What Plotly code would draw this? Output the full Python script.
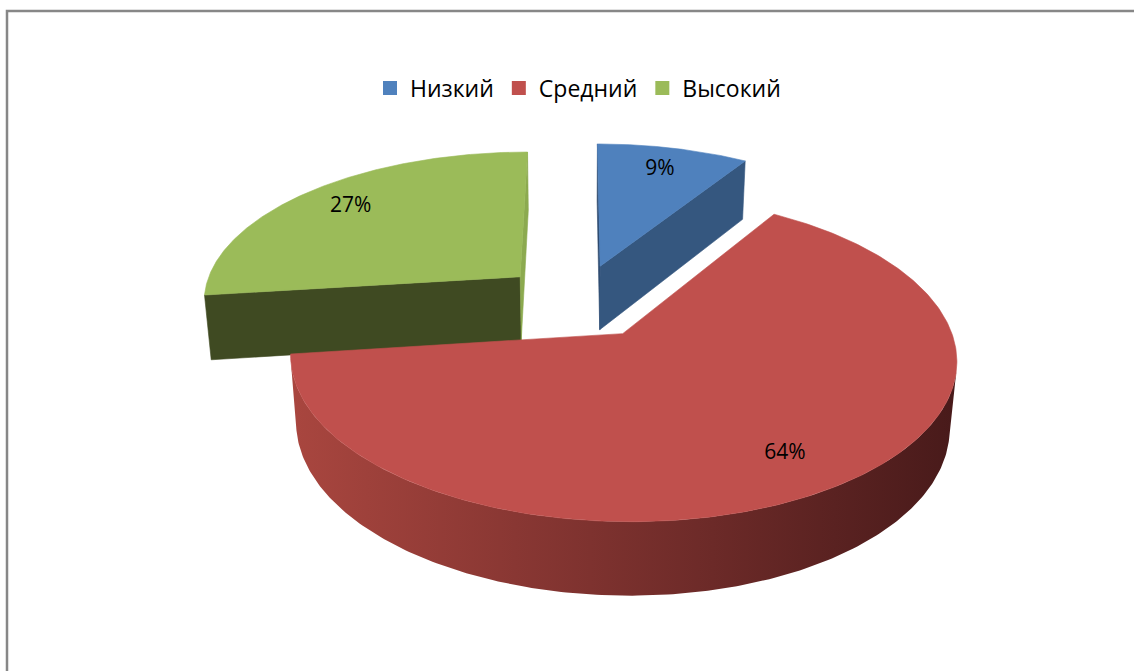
import numpy as np
import plotly.graph_objects as go

# ---- data ----
categories = ["Низкий", "Средний", "Высокий"]
values = [9, 64, 27]
value_labels = ["9%", "64%", "27%"]

# ---- styling ----
top_colors = ["#4F81BD", "#C0504D", "#9BBB59"]
start_face_colors = ["#2E4A6E", "#7A302D", "#3F4A22"]   # radial face at slice start angle
end_face_colors = ["#35577F", "#7A302D", "#8CAA4F"]     # radial face at slice end angle
side_colors = ["#2F4B70", None, "#56662F"]
red_side_scale = [[0.0, "#A9463F"], [0.45, "#7E322F"], [1.0, "#481A1A"]]
FONT = "Open Sans"

W, H = 1134, 671

# ---- 3D view geometry (perspective camera looking down at the pie) ----
TILT = np.radians(28)
CAM_DIST = 6.0
SCALE = 319.0
CX, CY = 578.6, 301.0
THICK = 0.235
EXPLODE = 0.25
LABEL_R = 0.8

sa, ca = np.sin(TILT), np.cos(TILT)
camera = np.array([0.0, CAM_DIST * sa, -CAM_DIST * ca])


def project(X, Y, Z):
    X = np.asarray(X, float)
    Y = np.asarray(Y, float) + 0 * X
    Z = np.asarray(Z, float)
    v = Y * ca + Z * sa
    d = CAM_DIST + Z * ca - Y * sa
    k = SCALE * CAM_DIST / d
    return CX + X * k, CY - v * k


def runs(mask):
    out, start = [], None
    for i, m in enumerate(mask):
        if m and start is None:
            start = i
        if not m and start is not None:
            out.append((start, i))
            start = None
    if start is not None:
        out.append((start, len(mask)))
    return out


def poly_trace(xs, ys, color=None, gradient=None):
    xs = list(xs) + [xs[0]]
    ys = list(ys) + [ys[0]]
    kw = dict(x=xs, y=ys, mode="lines", fill="toself", hoverinfo="skip", showlegend=False)
    if gradient is not None:
        kw["line"] = dict(width=0)
        kw["fillgradient"] = gradient
    else:
        kw["line"] = dict(width=0.6, color=color)
        kw["fillcolor"] = color
    return go.Scatter(**kw)


fig = go.Figure()

total = float(sum(values))
edges = np.concatenate([[0.0], np.cumsum(values) / total * 2 * np.pi])

slices = []
for i in range(len(values)):
    t0, t1 = edges[i], edges[i + 1]
    tm = 0.5 * (t0 + t1)
    slices.append((i, t0, t1, tm, EXPLODE * np.sin(tm), EXPLODE * np.cos(tm)))

# back slices first, the large front slice last
draw_order = [0, 2, 1]
label_pos = {}
for i in draw_order:
    _, t0, t1, tm, xc, zc = slices[i]
    th = np.linspace(t0, t1, 300)
    rx, rz = xc + np.sin(th), zc + np.cos(th)

    # outer curved wall, only where it faces the camera
    facing = (camera[0] - rx) * np.sin(th) + (camera[2] - rz) * np.cos(th) > 0
    for a, b in runs(facing):
        if b - a < 2:
            continue
        tx, ty = project(rx[a:b], 0.0, rz[a:b])
        bx, by = project(rx[a:b], -THICK, rz[a:b])
        px = np.concatenate([tx, bx[::-1]])
        py = np.concatenate([ty, by[::-1]])
        if side_colors[i] is None:
            grad = dict(type="horizontal", colorscale=red_side_scale,
                        start=float(px.min()), stop=float(px.max()))
            fig.add_trace(poly_trace(px, py, gradient=grad))
        else:
            fig.add_trace(poly_trace(px, py, color=side_colors[i]))

    # flat radial faces at the two cut edges
    cen = np.array([xc, 0.0, zc])
    for t, normal, col in [
        (t0, np.array([-np.cos(t0), 0.0, np.sin(t0)]), start_face_colors[i]),
        (t1, np.array([np.cos(t1), 0.0, -np.sin(t1)]), end_face_colors[i]),
    ]:
        if np.dot(camera - cen, normal) <= 0:
            continue
        ex, ez = xc + np.sin(t), zc + np.cos(t)
        qx, qy = project([xc, ex, ex, xc], [0, 0, -THICK, -THICK], [zc, ez, ez, zc])
        fig.add_trace(poly_trace(qx, qy, color=col))

    # top surface
    tx, ty = project(np.concatenate([[xc], rx]), 0.0, np.concatenate([[zc], rz]))
    fig.add_trace(poly_trace(tx, ty, color=top_colors[i]))

    label_pos[i] = project(xc + LABEL_R * np.sin(tm), 0.0, zc + LABEL_R * np.cos(tm))

# percentage labels
lx = [float(label_pos[i][0]) for i in range(len(values))]
ly = [float(label_pos[i][1]) for i in range(len(values))]
fig.add_trace(go.Scatter(
    x=lx, y=ly, mode="text", text=value_labels,
    textfont=dict(family=FONT, size=21, color="#000000"),
    hoverinfo="skip", showlegend=False,
))

# legend entries
for name, col in zip(categories, top_colors):
    fig.add_trace(go.Scatter(
        x=[None], y=[None], mode="markers", name=name,
        marker=dict(symbol="square", size=14, color=col, line=dict(width=0)),
    ))

fig.update_layout(
    width=W, height=H,
    margin=dict(l=0, r=0, t=0, b=0),
    paper_bgcolor="#FFFFFF", plot_bgcolor="#FFFFFF",
    xaxis=dict(range=[0, W], visible=False, fixedrange=True),
    yaxis=dict(range=[H, 0], visible=False, fixedrange=True),
    legend=dict(
        orientation="h", x=578 / W, xanchor="center", y=1 - 88 / H, yanchor="middle",
        font=dict(family=FONT, size=23, color="#000000"),
        bgcolor="rgba(0,0,0,0)", itemclick=False, itemdoubleclick=False,
    ),
    shapes=[dict(
        type="rect", xref="paper", yref="paper",
        x0=7 / W, y0=1 - 11 / H, x1=1.02, y1=-0.02,
        line=dict(color="#878787", width=2.5), fillcolor="rgba(0,0,0,0)", layer="above",
    )],
)

fig.write_html("out.html")
